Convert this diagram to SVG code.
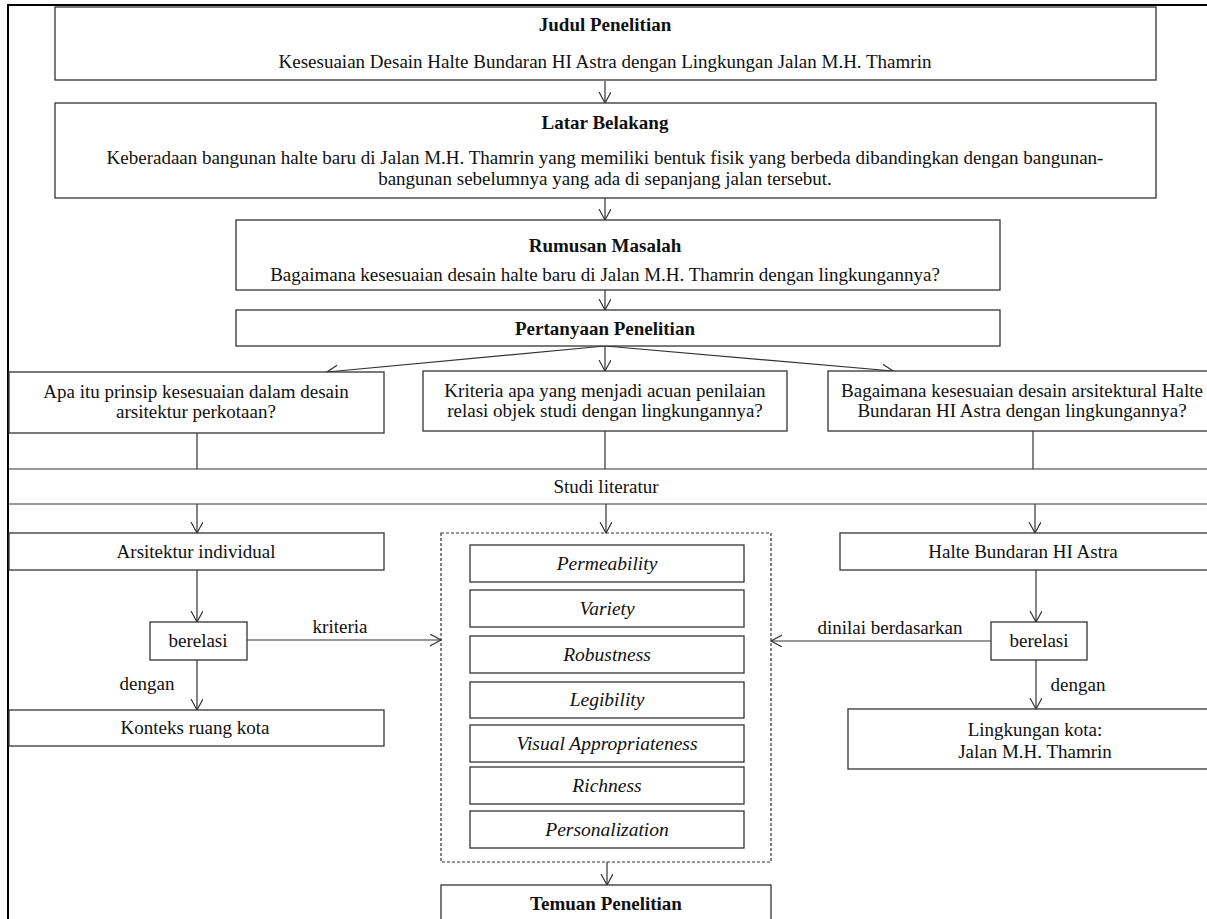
<svg xmlns="http://www.w3.org/2000/svg" width="1207" height="919" viewBox="0 0 1207 919">
<defs>
<style>
.box{fill:#fff;stroke:#333;stroke-width:1.3}
.dash{fill:none;stroke:#333;stroke-width:1.2;stroke-dasharray:3 2}
.ln{fill:none;stroke:#333;stroke-width:1.2}
.t{font-family:"Liberation Serif","Times New Roman",serif;font-size:19px;fill:#111;text-anchor:middle}
.b{font-weight:bold}
.i{font-style:italic;font-size:19.5px}
</style>
<marker id="ah" markerWidth="14" markerHeight="14" refX="11" refY="6" orient="auto" markerUnits="userSpaceOnUse">
<path d="M0,0 L11,6 L0,12" fill="none" stroke="#333" stroke-width="1.2"/>
</marker>
</defs>
<rect width="1207" height="919" fill="#fff"/>
<path d="M8,919 V5 H1207" fill="none" stroke="#000" stroke-width="2"/>

<g id="connectors">
<line class="ln" x1="605" y1="81" x2="605" y2="103" marker-end="url(#ah)"/>
<line class="ln" x1="605" y1="198" x2="605" y2="220" marker-end="url(#ah)"/>
<line class="ln" x1="605" y1="290" x2="605" y2="310" marker-end="url(#ah)"/>
<line class="ln" x1="605" y1="346" x2="327" y2="372" marker-end="url(#ah)"/>
<line class="ln" x1="605" y1="346" x2="605" y2="371" marker-end="url(#ah)"/>
<line class="ln" x1="605" y1="346" x2="893" y2="371" marker-end="url(#ah)"/>
<line class="ln" x1="197" y1="433" x2="197" y2="469"/>
<line class="ln" x1="605" y1="431" x2="605" y2="469"/>
<line class="ln" x1="1033" y1="431" x2="1033" y2="469"/>
<line class="ln" x1="9" y1="469" x2="1207" y2="469"/>
<line class="ln" x1="9" y1="504" x2="1207" y2="504"/>
<line class="ln" x1="197" y1="504" x2="197" y2="533" marker-end="url(#ah)"/>
<line class="ln" x1="606" y1="504" x2="606" y2="533" marker-end="url(#ah)"/>
<line class="ln" x1="1035" y1="504" x2="1035" y2="533" marker-end="url(#ah)"/>
<line class="ln" x1="197" y1="570" x2="197" y2="622" marker-end="url(#ah)"/>
<line class="ln" x1="247" y1="640" x2="441" y2="640" marker-end="url(#ah)"/>
<line class="ln" x1="197" y1="660" x2="197" y2="710" marker-end="url(#ah)"/>
<line class="ln" x1="1036" y1="570" x2="1036" y2="622" marker-end="url(#ah)"/>
<line class="ln" x1="991" y1="641" x2="771" y2="641" marker-end="url(#ah)"/>
<line class="ln" x1="1036" y1="660" x2="1036" y2="709" marker-end="url(#ah)"/>
<line class="ln" x1="607" y1="862" x2="607" y2="885" marker-end="url(#ah)"/>
<text class="t" x="340" y="633">kriteria</text>
<text class="t" x="890" y="634">dinilai berdasarkan</text>
<text class="t" x="147" y="690">dengan</text>
<text class="t" x="1078" y="691">dengan</text>
<text class="t" x="606" y="493">Studi literatur</text>
</g>

<g id="judul">
<rect class="box" x="55" y="7" width="1101" height="73"/>
<text class="t b" x="605" y="31">Judul Penelitian</text>
<text class="t" x="605" y="68">Kesesuaian Desain Halte Bundaran HI Astra dengan Lingkungan Jalan M.H. Thamrin</text>
</g>
<g id="latar">
<rect class="box" x="55" y="103" width="1101" height="95"/>
<text class="t b" x="605" y="129">Latar Belakang</text>
<text class="t" x="605" y="164">Keberadaan bangunan halte baru di Jalan M.H. Thamrin yang memiliki bentuk fisik yang berbeda dibandingkan dengan bangunan-</text>
<text class="t" x="605" y="185">bangunan sebelumnya yang ada di sepanjang jalan tersebut.</text>
</g>
<g id="rumusan">
<rect class="box" x="236" y="220" width="764" height="70"/>
<text class="t b" x="605" y="252">Rumusan Masalah</text>
<text class="t" x="605" y="281">Bagaimana kesesuaian desain halte baru di Jalan M.H. Thamrin dengan lingkungannya?</text>
</g>
<g id="pertanyaan">
<rect class="box" x="236" y="310" width="764" height="36"/>
<text class="t b" x="605" y="335">Pertanyaan Penelitian</text>
</g>
<g id="q1">
<rect class="box" x="9" y="372" width="375" height="61"/>
<text class="t" x="196" y="398">Apa itu prinsip kesesuaian dalam desain</text>
<text class="t" x="196" y="418">arsitektur perkotaan?</text>
</g>
<g id="q2">
<rect class="box" x="423" y="371" width="364" height="60"/>
<text class="t" x="605" y="397">Kriteria apa yang menjadi acuan penilaian</text>
<text class="t" x="605" y="417">relasi objek studi dengan lingkungannya?</text>
</g>
<g id="q3">
<rect class="box" x="828" y="371" width="400" height="60"/>
<text class="t" x="1022" y="397">Bagaimana kesesuaian desain arsitektural Halte</text>
<text class="t" x="1022" y="417">Bundaran HI Astra dengan lingkungannya?</text>
</g>
<g id="arsitektur">
<rect class="box" x="9" y="533" width="375" height="37"/>
<text class="t" x="196" y="558">Arsitektur individual</text>
</g>
<g id="berelasi-kiri">
<rect class="box" x="150" y="622" width="97" height="38"/>
<text class="t" x="198" y="647">berelasi</text>
</g>
<g id="konteks">
<rect class="box" x="9" y="710" width="375" height="36"/>
<text class="t" x="195" y="734">Konteks ruang kota</text>
</g>
<g id="kriteria">
<rect class="dash" x="441" y="533" width="330" height="329"/>
<rect class="box" x="470" y="545" width="274" height="37"/>
<text class="t i" x="607" y="570">Permeability</text>
<rect class="box" x="470" y="590" width="274" height="37"/>
<text class="t i" x="607" y="615">Variety</text>
<rect class="box" x="470" y="636" width="274" height="37"/>
<text class="t i" x="607" y="661">Robustness</text>
<rect class="box" x="470" y="682" width="274" height="36"/>
<text class="t i" x="607" y="706">Legibility</text>
<rect class="box" x="470" y="725" width="274" height="37"/>
<text class="t i" x="607" y="750">Visual Appropriateness</text>
<rect class="box" x="470" y="767" width="274" height="37"/>
<text class="t i" x="607" y="792">Richness</text>
<rect class="box" x="470" y="811" width="274" height="37"/>
<text class="t i" x="607" y="836">Personalization</text>
</g>
<g id="halte">
<rect class="box" x="840" y="533" width="380" height="37"/>
<text class="t" x="1023" y="558">Halte Bundaran HI Astra</text>
</g>
<g id="berelasi-kanan">
<rect class="box" x="991" y="622" width="96" height="38"/>
<text class="t" x="1039" y="647">berelasi</text>
</g>
<g id="lingkungan">
<rect class="box" x="848" y="709" width="380" height="60"/>
<text class="t" x="1035" y="736">Lingkungan kota:</text>
<text class="t" x="1035" y="758">Jalan M.H. Thamrin</text>
</g>
<g id="temuan">
<rect class="box" x="441" y="885" width="330" height="50"/>
<text class="t b" x="606" y="910">Temuan Penelitian</text>
</g>
</svg>
